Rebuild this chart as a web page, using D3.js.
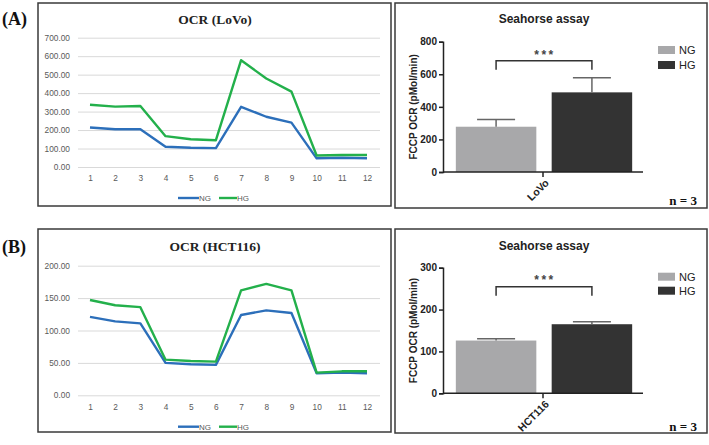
<!DOCTYPE html>
<html><head><meta charset="utf-8">
<script src="https://cdn.jsdelivr.net/npm/d3@7"></script>
<style>html,body{margin:0;padding:0;background:#fff;}svg{display:block;}</style>
</head><body>
<svg id="c" width="709" height="445"></svg>
<script>
// ---- data ----
const timePoints = [1,2,3,4,5,6,7,8,9,10,11,12];
const lovoNG = [214,204,204,110,104,102,326,272,240,47,50,47];
const lovoHG = [337,327,330,167,150,145,578,479,408,62,65,65];
const hctNG  = [121,114,111,50,48,47,124,131,127,34,35,34];
const hctHG  = [147,139,136,55,53,52,162,172,162,35,37,37];
const lovoTicks = [0,100,200,300,400,500,600,700];
const hctTicks  = [0,50,100,150,200];
const groups = ["NG","HG"];
const lovoBar = [278,489], lovoErr = [45,90];
const hctBar  = [126,165], hctErr  = [4,6];
const lovoBarTicks = [0,200,400,600,800];
const hctBarTicks  = [0,100,200,300];

const svg = d3.select("#c");
svg.append("rect").attr("width",709).attr("height",445).attr("fill","#fff");

const lineColors = {NG:"#2c6fba", HG:"#23b04b"};
const barColors = {NG:"#a8a8aa", HG:"#333333"};

function panelBox(x0,y0,x1,y1){
  svg.append("rect").attr("x",x0).attr("y",y0).attr("width",x1-x0).attr("height",y1-y0)
    .attr("fill","none").attr("stroke","#3a3a3a").attr("stroke-width",1.5);
}

function lineChart(oy, title, ng, hg, ticks, yTop, yBottom, xLabY, legY){
  const x = d3.scaleLinear().domain([1,12]).range([90,367]);
  const y = d3.scaleLinear().domain([0, ticks[ticks.length-1]]).range([yBottom, yTop]);
  svg.append("text").attr("x",215).attr("y",oy).attr("text-anchor","middle")
    .attr("font-family","Liberation Serif").attr("font-weight","bold").attr("font-size",13.5)
    .attr("fill","#222").text(title);
  const g = svg.append("g");
  const ya = d3.axisLeft(y).tickValues(ticks).tickSize(-302).tickFormat(d3.format(".2f"));
  const ag = g.append("g").attr("transform","translate(78,0)").call(ya);
  ag.select(".domain").remove();
  ag.selectAll(".tick line").attr("stroke","#d9d9d9").attr("stroke-width",1);
  ag.selectAll(".tick text").attr("x",-8).attr("fill","#595959")
    .attr("font-family","Liberation Sans").attr("font-size",8.3);
  const xa = d3.axisBottom(x).tickValues(timePoints).tickSize(0).tickFormat(d3.format("d"));
  const xg = g.append("g").attr("transform",`translate(0,${xLabY})`).call(xa);
  xg.select(".domain").remove();
  xg.selectAll(".tick text").attr("fill","#595959").attr("font-family","Liberation Sans").attr("font-size",8.3).attr("dy","0.35em").attr("y",0);
  const line = d3.line().x((d,i)=>x(timePoints[i])).y(d=>y(d));
  [["NG",ng],["HG",hg]].forEach(([k,v])=>{
    g.append("path").datum(v).attr("d",line).attr("fill","none")
      .attr("stroke",lineColors[k]).attr("stroke-width",2.4).attr("stroke-linejoin","round");
  });
  // legend
  const leg = [["NG",178,199],["HG",219,237]];
  leg.forEach(([k,a,b])=>{
    svg.append("line").attr("x1",a).attr("x2",b).attr("y1",legY).attr("y2",legY)
      .attr("stroke",lineColors[k]).attr("stroke-width",2.4);
    svg.append("text").attr("x",b).attr("y",legY).attr("dy","0.35em")
      .attr("font-family","Liberation Sans").attr("font-size",8).attr("fill","#595959").text(k);
  });
}

function barChart(titleY, cat, vals, errs, ticks, yTop, yBottom, bracketTop, starsY, legY1, legY2, nY){
  const y = d3.scaleLinear().domain([0, ticks[ticks.length-1]]).range([yBottom, yTop]);
  const x = d3.scaleBand().domain(groups).range([452,636]).paddingInner(0.16).paddingOuter(0.04);
  svg.append("text").attr("x",544).attr("y",titleY).attr("text-anchor","middle")
    .attr("font-family","Liberation Sans").attr("font-weight","bold").attr("font-size",12)
    .attr("fill","#222").text("Seahorse assay");
  // bars
  groups.forEach((k,i)=>{
    svg.append("rect").attr("x",x(k)).attr("y",y(vals[i])).attr("width",x.bandwidth())
      .attr("height",y(0)-y(vals[i])).attr("fill",barColors[k]);
    const cx = x(k)+x.bandwidth()/2;
    svg.append("line").attr("x1",cx).attr("x2",cx).attr("y1",y(vals[i])).attr("y2",y(vals[i]+errs[i]))
      .attr("stroke","#666").attr("stroke-width",1.5);
    svg.append("line").attr("x1",cx-19).attr("x2",cx+19).attr("y1",y(vals[i]+errs[i])).attr("y2",y(vals[i]+errs[i]))
      .attr("stroke","#666").attr("stroke-width",1.5);
  });
  // y axis
  const ag = svg.append("g").attr("transform","translate(443,0)")
    .call(d3.axisLeft(y).tickValues(ticks).tickSize(4).tickPadding(2));
  ag.select(".domain").attr("stroke","#222").attr("stroke-width",1.5);
  ag.selectAll(".tick line").attr("stroke","#222").attr("stroke-width",1.5);
  ag.selectAll(".tick text").attr("fill","#222").attr("font-family","Liberation Sans")
    .attr("font-weight","bold").attr("font-size",10);
  // x axis baseline
  svg.append("line").attr("x1",443).attr("x2",643).attr("y1",y(0)).attr("y2",y(0))
    .attr("stroke","#222").attr("stroke-width",1.5);
  svg.append("line").attr("x1",543).attr("x2",543).attr("y1",y(0)).attr("y2",y(0)+5)
    .attr("stroke","#222").attr("stroke-width",1.5);
  svg.append("text").attr("transform",`translate(547,${y(0)+9}) rotate(-45)`)
    .attr("text-anchor","end").attr("dy","0.35em").attr("font-family","Liberation Sans")
    .attr("font-weight","bold").attr("font-size",10.5).attr("fill","#222").text(cat);
  // y title
  svg.append("text").attr("transform",`translate(417,${(yTop+yBottom)/2}) rotate(-90)`)
    .attr("text-anchor","middle").attr("font-family","Liberation Sans").attr("font-weight","bold")
    .attr("font-size",10).attr("fill","#222").text("FCCP OCR (pMol/min)");
  // significance bracket
  const bx1 = x("NG")+x.bandwidth()/2, bx2 = x("HG")+x.bandwidth()/2;
  svg.append("path").attr("d",`M${bx1},${bracketTop+9}V${bracketTop}H${bx2}V${bracketTop+9}`)
    .attr("fill","none").attr("stroke","#333").attr("stroke-width",1.5);
  svg.append("text").attr("x",(bx1+bx2)/2+1).attr("y",starsY+2).attr("text-anchor","middle")
    .attr("font-family","Liberation Sans").attr("font-weight","bold").attr("font-size",12)
    .attr("fill","#444").attr("letter-spacing",2.5).text("***");
  // legend
  [["NG",legY1],["HG",legY2]].forEach(([k,ly])=>{
    svg.append("rect").attr("x",658).attr("y",ly-4).attr("width",17).attr("height",8).attr("fill",barColors[k]);
    svg.append("text").attr("x",679).attr("y",ly).attr("dy","0.35em").attr("font-family","Liberation Sans")
      .attr("font-size",11).attr("fill","#222").text(k);
  });
  svg.append("text").attr("x",697).attr("y",nY).attr("text-anchor","end")
    .attr("font-family","Liberation Serif").attr("font-weight","bold").attr("font-size",13)
    .attr("fill","#111").text("n = 3");
}

// panel labels
svg.append("text").attr("x",2).attr("y",25).attr("font-family","Liberation Serif").attr("font-weight","bold")
  .attr("font-size",18).attr("fill","#111").text("(A)");
svg.append("text").attr("x",2).attr("y",253).attr("font-family","Liberation Serif").attr("font-weight","bold")
  .attr("font-size",18).attr("fill","#111").text("(B)");

panelBox(38,3,391,206);
panelBox(395,3,707,208);
panelBox(38,229,391,432);
panelBox(395,229,707,433);

lineChart(24, "OCR (LoVo)", lovoNG, lovoHG, lovoTicks, 37.7, 167, 178, 198);
lineChart(251, "OCR (HCT116)", hctNG, hctHG, hctTicks, 265.7, 395.3, 406.7, 426.7);

barChart(23, "LoVo", lovoBar, lovoErr, lovoBarTicks, 41.7, 172, 60.7, 57, 50, 65, 205);
barChart(250, "HCT116", hctBar, hctErr, hctBarTicks, 267.7, 393.3, 286.7, 282, 276.7, 290.7, 431);
</script>
</body></html>
